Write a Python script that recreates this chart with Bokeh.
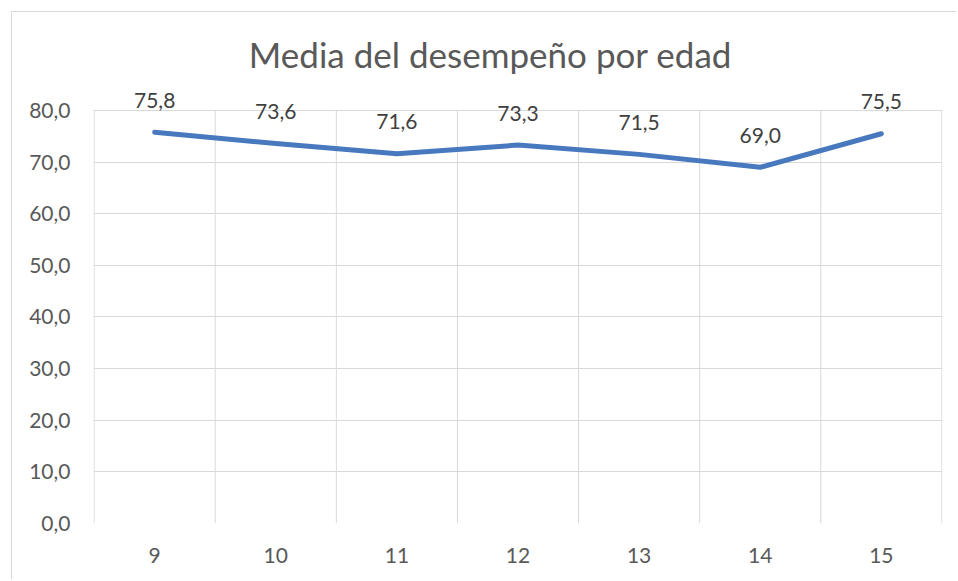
from bokeh.plotting import figure
from bokeh.models import FixedTicker, Range1d, Label, ColumnDataSource
from bokeh.embed import file_html
from bokeh.resources import INLINE

edades = [9, 10, 11, 12, 13, 14, 15]
medias = [75.8, 73.6, 71.6, 73.3, 71.5, 69.0, 75.5]
etiquetas = ["75,8", "73,6", "71,6", "73,3", "71,5", "69,0", "75,5"]
y_ticks = [0, 10, 20, 30, 40, 50, 60, 70, 80]
titulo = "Media del desempeño por edad"

FONT = "Lato"
TXT = "#595959"
GRID = "#d9d9d9"

src = ColumnDataSource(dict(x=edades, y=medias))
bordes = [e - 0.5 for e in edades] + [edades[-1] + 0.5]
grid_src = ColumnDataSource(dict(x=bordes, y0=[y_ticks[0]] * len(bordes),
                                 y1=[y_ticks[-1]] * len(bordes)))

p = figure(width=945, height=568, output_backend="svg", toolbar_location=None,
           x_range=Range1d(8.495, 15.505), y_range=Range1d(0, 98.98),
           min_border_left=81, min_border_right=15, min_border_top=0, min_border_bottom=57,
           margin=(11, 0, 0, 11),
           styles={"border-left": "1px solid #d9d9d9", "border-top": "1px solid #d9d9d9"})
p.outline_line_color = None
p.background_fill_color = "white"
p.border_fill_color = "white"

p.segment(x0="x", y0="y0", x1="x", y1="y1", source=grid_src,
          line_color=GRID, line_width=1)

p.line("x", "y", source=src, line_color="#4879BE", line_width=5,
       line_cap="round", line_join="round")

for e, m, lab in zip(edades, medias, etiquetas):
    p.add_layout(Label(x=e, y=m, text=lab, y_offset=32,
                       text_align="center", text_baseline="alphabetic",
                       text_font=FONT, text_font_size="21px", text_color="#404040"))

p.xaxis.ticker = FixedTicker(ticks=edades)
p.xaxis.major_label_overrides = {e: str(e) for e in edades}
p.yaxis.ticker = FixedTicker(ticks=y_ticks)
p.yaxis.major_label_overrides = {t: f"{t},0" for t in y_ticks}
for ax in (p.xaxis, p.yaxis):
    ax.axis_line_color = None
    ax.major_tick_line_color = None
    ax.minor_tick_line_color = None
    ax.major_tick_out = 0
    ax.major_tick_in = 0
    ax.major_label_text_font = FONT
    ax.major_label_text_font_size = "21px"
    ax.major_label_text_color = TXT
p.xaxis.major_label_standoff = 24
p.yaxis.major_label_standoff = 23

p.xgrid.grid_line_color = None
p.ygrid.ticker = FixedTicker(ticks=y_ticks)
p.ygrid.grid_line_color = GRID

p.add_layout(Label(x=397, y=470, x_units="screen", y_units="screen", text=titulo,
                   text_align="center", text_baseline="alphabetic",
                   text_font=FONT, text_font_size="35px", text_color=TXT))

open("out.html", "w").write(file_html(p, INLINE))
